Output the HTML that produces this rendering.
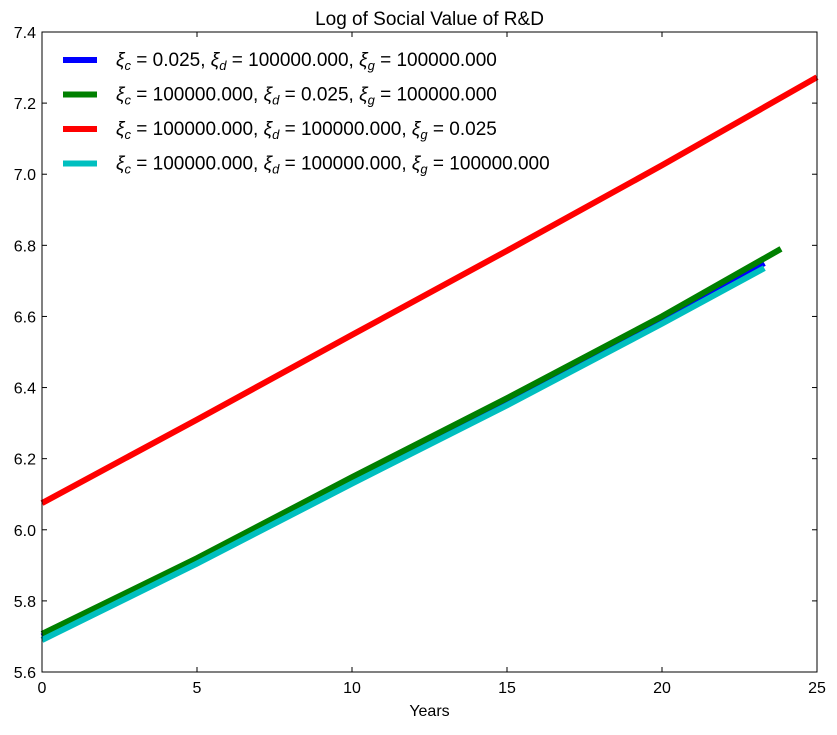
<!DOCTYPE html>
<html><head><meta charset="utf-8"><style>
body{margin:0;background:#fff;}
svg text{font-family:"Liberation Sans",sans-serif;}
</style></head><body>
<svg id="c" width="837" height="730" xmlns="http://www.w3.org/2000/svg"></svg>
<script>
const years = [0,5,10,15,20];
const seriesBlue = [5.70,5.915,6.14,6.365,6.595,6.75];
const seriesGreen = [5.707,5.92,6.148,6.37,6.60,6.79];
const seriesRed = [6.075,6.31,6.548,6.785,7.025,7.273];
const seriesCyan = [5.69,5.905,6.13,6.35,6.58,6.736];
const endYears = [23.3,23.84,25,23.3];
const xTicks = [0,5,10,15,20,25];
const yTicks = [5.6,5.8,6.0,6.2,6.4,6.6,6.8,7.0,7.2,7.4];
const labels = ["ξc = 0.025, ξd = 100000.000, ξg = 100000.000","ξc = 100000.000, ξd = 0.025, ξg = 100000.000","ξc = 100000.000, ξd = 100000.000, ξg = 0.025","ξc = 100000.000, ξd = 100000.000, ξg = 100000.000"];
const L=42,R=817,T=32,B=672;
const xs=v=>L+(v-0)/25*(R-L);
const ys=v=>B-(v-5.6)/1.8*(B-T);
const NS="http://www.w3.org/2000/svg";
const svg=document.getElementById('c');
function mk(tag,attrs,parent){const e=document.createElementNS(NS,tag);for(const k in attrs)e.setAttribute(k,attrs[k]);(parent||svg).appendChild(e);return e;}
const series=[{v:seriesBlue,c:"#0000ff",n:"line-blue"},{v:seriesGreen,c:"#008000",n:"line-green"},{v:seriesRed,c:"#ff0000",n:"line-red"},{v:seriesCyan,c:"#00bfbf",n:"line-cyan"}];
[0,1,2,3].forEach(i=>{const s=series[i];
 const xsArr=years.concat([endYears[i]]);
 const pts=s.v.map((v,j)=>xs(xsArr[j]).toFixed(1)+","+ys(v).toFixed(1)).join(" ");
 const p=mk('polyline',{points:pts,fill:"none",stroke:s.c,"stroke-width":6});
 
 
});
const f=mk('rect',{x:L,y:T,width:R-L,height:B-T,fill:"none",stroke:"#000","stroke-width":1});


xTicks.forEach(t=>{const x=xs(t);
 mk('line',{x1:x,x2:x,y1:B,y2:B-5,stroke:"#000"});
 mk('line',{x1:x,x2:x,y1:T,y2:T+5,stroke:"#000"});
 const tx=mk('text',{x:x,y:B+21,"text-anchor":"middle","font-size":16});tx.textContent=t;
 
 
});
yTicks.forEach(t=>{const y=ys(t);
 mk('line',{x1:L,x2:L+5,y1:y,y2:y,stroke:"#000"});
 mk('line',{x1:R,x2:R-5,y1:y,y2:y,stroke:"#000"});
 const tx=mk('text',{x:L-6,y:y+6,"text-anchor":"end","font-size":16});tx.textContent=t.toFixed(1);
 
 
});
const ti=mk('text',{x:(L+R)/2,y:25,"text-anchor":"middle","font-size":19});ti.textContent="Log of Social Value of R&D";


const xl=mk('text',{x:(L+R)/2,y:716,"text-anchor":"middle","font-size":16});xl.textContent="Years";


series.forEach((s,i)=>{const y=60+i*34.5;
 const g=mk('g',{});
 
 
 mk('line',{x1:63,x2:97,y1:y,y2:y,stroke:s.c,"stroke-width":6},g);
 const tx=mk('text',{x:116,y:y+6,"font-size":19,"font-family":"Liberation Serif, serif"},g);
 const parts=labels[i].split(", ");
 parts.forEach((p,k)=>{const m=p.match(/ξ(\w) = (.*)/);
  const a=mk('tspan',{"font-style":"italic"},tx);a.textContent="ξ";
  const b=mk('tspan',{"font-size":13,dy:4,"font-style":"italic"},tx);b.textContent=m[1];
  const c=mk('tspan',{dy:-4},tx);c.textContent=" = "+m[2]+(k<2?", ":"");
 });
});
</script>
</body></html>
